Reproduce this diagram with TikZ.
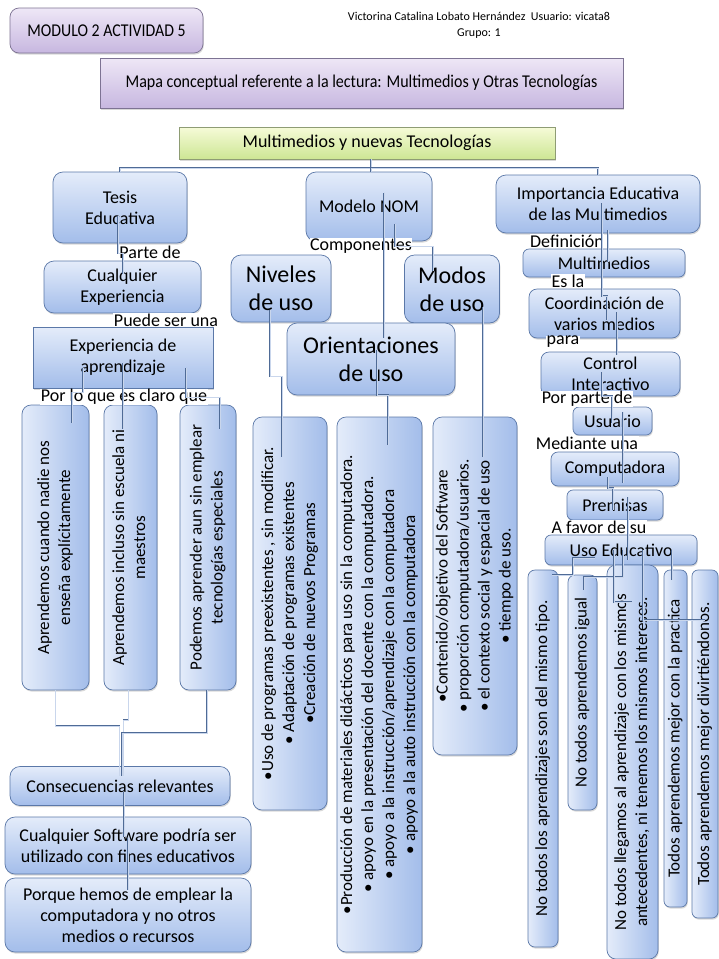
\documentclass[tikz,border=0pt]{standalone}
\usepackage{fontspec}
\setmainfont{Carlito}
\usepackage{graphicx}
\usetikzlibrary{calc,shadows}
\definecolor{bluetop}{HTML}{E4ECFA}
\definecolor{bluebot}{HTML}{A3BDEA}
\definecolor{blueline}{HTML}{5B78A8}
\definecolor{purtop}{HTML}{EEE7F6}
\definecolor{purbot}{HTML}{C7B7E0}
\definecolor{purline}{HTML}{7D7393}
\definecolor{grntop}{HTML}{F6FBD8}
\definecolor{grnbot}{HTML}{CDE694}
\definecolor{grnline}{HTML}{8E9C74}
\definecolor{connline}{HTML}{4F6B96}
\definecolor{conninner}{HTML}{C9D6EC}
\newcommand{\fsn}{\fontsize{18}{21}\selectfont}
\newcommand{\fsb}{\fontsize{24}{28}\selectfont}
\newcommand{\fss}{\fontsize{12}{16}\selectfont}
\newcommand{\fsr}{\fontsize{17}{21}\selectfont}
\newcommand{\vt}[1]{\rotatebox{90}{\fsr\begin{tabular}{@{}c@{}}#1\end{tabular}}}
\tikzset{
  shad/.style={drop shadow={shadow xshift=0.8pt, shadow yshift=-1.6pt, opacity=0.3}},
  bbox/.style={shad, draw=blueline, line width=0.7pt, top color=bluetop, bottom color=bluebot,
    inner sep=0pt, align=center, font=\fsn},
  bigbox/.style={bbox, font=\fsb, rounded corners=10pt},
  vbox/.style={shad, draw=blueline, line width=0.7pt, left color=bluetop, right color=bluebot,
    inner sep=0pt, rounded corners=9pt},
  pbox/.style={shad, draw=purline, line width=0.7pt, top color=purtop, bottom color=purbot,
    inner sep=0pt, align=center, font=\fsn},
  gbox/.style={shad, draw=grnline, line width=0.7pt, top color=grntop, bottom color=grnbot,
    inner sep=0pt, align=center, font=\fsn},
  lbl/.style={fill=white, inner sep=0.5pt, font=\fsn},
  conn/.style={draw=connline, line width=0.5pt, double=conninner, double distance=0.9pt},
}
\begin{document}
\begin{tikzpicture}[x=1pt,y=-1pt]
\useasboundingbox (0,0) rectangle (719,959);
\fill[white] (0,0) rectangle (719,959);

% header
\node[pbox, rounded corners=9pt, minimum width=193pt, minimum height=45pt] (modulo) at (106.5,30.5)
  {\scalebox{0.88}[1]{MODULO 2 ACTIVIDAD 5}};
\node[align=center, font=\fss, inner sep=0pt] (autor) at (479,25)
  {Victorina Catalina Lobato Hernández\ \ Usuario: vicata8\\Grupo: 1};
\node[pbox, minimum width=523pt, minimum height=50pt] (mapa) at (361.5,83)
  {\scalebox{0.89}[1]{Mapa conceptual referente a la lectura: Multimedios y Otras Tecnologías}};
\node[gbox, minimum width=376pt, minimum height=32pt] (main) at (367,143) {Multimedios y nuevas Tecnologías};

% left column
\node[bbox, rounded corners=10pt, minimum width=134pt, minimum height=71pt] (tesis) at (120,207.5) {Tesis\\Educativa};
\node[bbox, rounded corners=10pt, minimum width=157pt, minimum height=52pt] (cualq) at (122.5,287) {Cualquier\\Experiencia};
\node[bbox, minimum width=180pt, minimum height=61pt] (expap) at (123,357.5) {Experiencia de\\aprendizaje};
\node[vbox, minimum width=67pt, minimum height=285pt] (b1) at (55.5,547.5) {\vt{Aprendemos cuando nadie nos\\enseña explícitamente}};
\node[vbox, minimum width=53pt, minimum height=285pt] (b2) at (130.5,547.5) {\vt{Aprendemos incluso sin escuela ni\\maestros}};
\node[vbox, minimum width=56pt, minimum height=285pt] (b3) at (208,547.5) {\vt{Podemos aprender aun sin emplear\\tecnologías especiales}};
\node[bbox, rounded corners=10pt, minimum width=220pt, minimum height=39pt] (conse) at (120,786) {Consecuencias relevantes};
\node[bbox, rounded corners=10pt, minimum width=246pt, minimum height=57pt] (cualsoft) at (128,845.5) {Cualquier Software podría ser\\utilizado con fines educativos};
\node[bbox, rounded corners=10pt, minimum width=246pt, minimum height=74pt] (porque) at (128,915) {Porque hemos de emplear la\\computadora y no otros\\medios o recursos};

% middle column
\node[bbox, rounded corners=10pt, minimum width=126pt, minimum height=69pt] (modelo) at (369,206.5) {Modelo NOM};
\node[bigbox, minimum width=100pt, minimum height=67pt] (niveles) at (281,288.5) {Niveles\\de uso};
\node[bigbox, minimum width=95pt, minimum height=68pt] (modos) at (452,289) {Modos\\de uso};
\node[bigbox, minimum width=168pt, minimum height=72pt] (orient) at (371,359) {Orientaciones\\de uso};
\node[vbox, minimum width=74pt, minimum height=393pt] (bA) at (290,613.5)
  {\vt{•Uso de programas preexistentes , sin modificar.\\• Adaptación de programas existentes\\•Creación de nuevos Programas}};
\node[vbox, minimum width=85pt, minimum height=535pt] (bB) at (379.5,684.5)
  {\vt{•Producción de materiales didácticos para uso sin la computadora.\\• apoyo en la presentación del docente con la computadora.\\• apoyo a la instrucción/aprendizaje con la computadora\\• apoyo a la auto instrucción con la computadora}};
\node[vbox, minimum width=84pt, minimum height=338pt] (bC) at (475,586)
  {\vt{•Contenido/objetivo del Software\\• proporción computadora/usuarios.\\• el contexto social y espacial de uso\\• tiempo de uso.}};

% right column
\node[bbox, rounded corners=10pt, minimum width=204pt, minimum height=58pt] (imp) at (598,204) {Importancia Educativa\\de las Multimedios};
\node[bbox, rounded corners=6pt, minimum width=162pt, minimum height=28pt] (mult) at (604,263) {Multimedios};
\node[bbox, rounded corners=8pt, minimum width=151pt, minimum height=49pt] (coord) at (604.5,313.5) {Coordinación de\\varios medios};
\node[bbox, rounded corners=8pt, minimum width=139pt, minimum height=44pt] (ctrl) at (610.5,374) {Control\\Interactivo};
\node[bbox, rounded corners=6pt, minimum width=79pt, minimum height=28pt] (usr) at (612.5,421) {Usuario};
\node[bbox, rounded corners=7pt, minimum width=128pt, minimum height=34pt] (comp) at (615,469) {Computadora};
\node[bbox, rounded corners=6pt, minimum width=96pt, minimum height=30pt] (prem) at (615,505) {Premisas};
\node[bbox, rounded corners=6pt, minimum width=152pt, minimum height=30pt] (usoed) at (621,550) {Uso Educativo};
\node[vbox, rounded corners=7pt, minimum width=30pt, minimum height=377pt] (r1) at (543,758.5) {\vt{No todos los aprendizajes son del mismo tipo.}};
\node[vbox, rounded corners=7pt, minimum width=29pt, minimum height=235pt] (r2) at (582.5,692.5) {\vt{No todos aprendemos igual}};
\node[vbox, rounded corners=9pt, minimum width=51pt, minimum height=394pt] (r3) at (632.5,762) {\vt{No todos llegamos al aprendizaje con los mismos\\antecedentes, ni tenemos los mismos intereses.}};
\node[vbox, rounded corners=6pt, minimum width=23pt, minimum height=337pt] (r4) at (675.5,738.5) {\vt{Todos aprendemos mejor con la practica}};
\node[vbox, rounded corners=6pt, minimum width=26pt, minimum height=348pt] (r5) at (705,744) {\vt{Todos aprendemos mejor divirtiéndonos.}};

% labels
\node[lbl] (lparte) at (150,252) {Parte de};
\node[lbl] (lpuede) at (166,320) {Puede ser una};
\node[lbl] (lporlo) at (124,397) {Por lo que es claro que};
\node[lbl] (lcomp) at (361,246) {Componentes};
\node[lbl] (ldef) at (567,241) {Definición};
\node[lbl] (lesla) at (568,281) {Es la};
\node[lbl] (lpara) at (563,342) {para};
\node[lbl] (lpor) at (587,399) {Por parte de};
\node[lbl] (lmed) at (587,443) {Mediante una};
\node[lbl] (lfav) at (599,527) {A favor de su};

% connectors: top level
\draw[conn] ($(main.south)+(4,0)$) -- ++(0,9) coordinate (mj);
\draw[conn] (mj) -| (tesis.north);
\draw[conn] (mj) -| (imp.north);
\draw[conn] (mj) -- (mj |- modelo.north);
% left column
\draw[conn] ($(tesis.center)+(-2,8)$) -- ++(0,38) -- ++(5,0) -- ++(0,20);
\draw[conn] ($(expap.center)+(-40,10)$) -- ++(0,25) -- ++(-11,0) -- ++(0,30);
\draw[conn] ($(expap.center)+(0,5)$) -- ++(0,66);
\draw[conn] ($(expap.center)+(63,10)$) -- ++(0,30) -- ++(34,0) -- ++(0,31);
\draw[conn] (b1.south) -- ++(0,36) -- ++(64,0) -- ++(0,50);
\draw[conn] ($(b2.south)+(-2,0)$) -- ++(0,30) -- ++(-5,0) -- ++(0,56);
\draw[conn] ($(b3.south)+(-1,0)$) -- ++(0,43) -- ++(-85,0) -- ++(0,43);
\draw[conn] ($(conse.center)+(4,6)$) -- ++(0,45);
\draw[conn] ($(cualsoft.center)+(0,-8)$) -- ++(0,52);
% middle column
\draw[conn] ($(modelo.center)+(15,-14)$) -- ++(0,145);
\draw[conn] ($(modelo.center)+(26,17)$) -- ++(0,23) -- ++(38,0) -- ++(0,24);
\draw[conn] ($(niveles.center)+(-11,21)$) -- ++(0,67) -- ++(12,0) -- ++(0,80);
\draw[conn] ($(orient.center)+(6,-9)$) -- ++(0,45) -- ++(11,0) -- ++(0,50);
\draw[conn] ($(modos.center)+(31,18)$) -- ++(0,150);
% right column
\draw[conn] ($(imp.center)+(4,-1)$) -- ++(0,93) -- ++(5,0) -- ++(0,24);
\draw[conn] ($(imp.center)+(10,26)$) -- ++(0,32);
\draw[conn] ($(coord.center)+(12.5,-1.5)$) -- ++(0,43);
\draw[conn] ($(ctrl.center)+(-8.5,-2)$) -- ++(0,24) -- ++(10,0) -- ++(0,27);
\draw[conn] ($(usr.center)+(10.5,-9)$) -- ++(0,71);
\draw[conn] ($(comp.center)+(-7,8)$) -- ++(0,11) -- ++(5,0) -- ++(0,22);
\draw[conn] ($(prem.center)+(13,-8)$) -- ++(0,63);
\draw[conn] ($(usoed.center)+(-26,8)$) -- ++(-22,0) -- ++(0,17) -- ++(-21,0);
\draw[conn] ($(usoed.center)+(2,0)$) -- ++(0,27) -- ++(-39,0) -- ++(0,13);
\draw[conn] ($(usoed.center)+(-7,0)$) -- ++(0,52) -- ++(18,0);
\draw[conn] ($(usoed.center)+(51,0)$) -- ++(0,30);
\draw[conn] ($(usoed.center)+(22,0)$) -- ++(0,70) -- ++(62,0);
\end{tikzpicture}
\end{document}
